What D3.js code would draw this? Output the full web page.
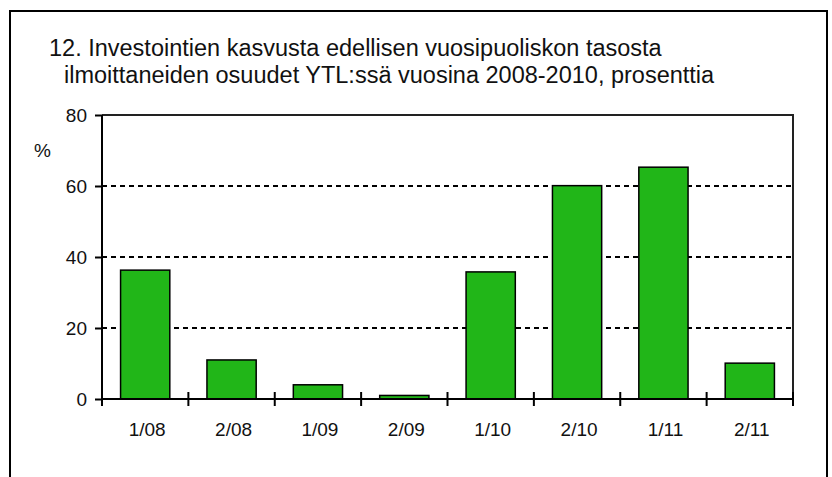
<!DOCTYPE html>
<html>
<head>
<meta charset="utf-8">
<script src="https://cdn.jsdelivr.net/npm/d3@7"></script>
<style>
  body { margin: 0; background: #fff; }
  svg { display: block; font-family: "Liberation Sans", Arial, Helvetica, sans-serif; }
</style>
</head>
<body>
<svg id="chart" width="832" height="477"></svg>
<script>
var categories = ["1/08", "2/08", "1/09", "2/09", "1/10", "2/10", "1/11", "2/11"];
var values = [36.3, 11, 4, 1, 35.8, 60.1, 65.3, 10.1];
var yTicks = [0, 20, 40, 60, 80];
var titleLines = [
  "12. Investointien kasvusta edellisen vuosipuoliskon tasosta",
  "ilmoittaneiden osuudet YTL:ssä vuosina 2008-2010, prosenttia"
];

var svg = d3.select("#chart");
var margin = {top: 115, left: 102, right: 39, bottom: 78};
var width = 832 - margin.left - margin.right,
    height = 477 - margin.top - margin.bottom;

// outer frame (runs off bottom)
svg.append("path")
  .attr("d", "M10,477 L10,11 L827,11 L827,477")
  .attr("fill", "none").attr("stroke", "#000").attr("stroke-width", 2);

svg.append("text").attr("x", 49).attr("y", 56).attr("font-size", 23.5).attr("fill", "#111")
  .text(titleLines[0]);
svg.append("text").attr("x", 64).attr("y", 83).attr("font-size", 23.5).attr("fill", "#111")
  .text(titleLines[1]);

var g = svg.append("g").attr("transform", "translate(" + margin.left + "," + margin.top + ")");

var x = d3.scaleBand().domain(categories).range([0, width]).paddingInner(0.43).paddingOuter(0.215);
var xb = d3.scaleBand().domain(categories).range([0, width]);
var y = d3.scaleLinear().domain([0, 80]).range([height, 0]);

// grid
g.selectAll("line.grid").data(yTicks.filter(function(d){ return d > 0 && d < 80; }))
  .enter().append("line")
  .attr("x1", 0).attr("x2", width)
  .attr("y1", function(d){ return y(d); }).attr("y2", function(d){ return y(d); })
  .attr("stroke", "#000").attr("stroke-width", 2).attr("stroke-dasharray", "5,4");

// top and right frame of plot
g.append("path")
  .attr("d", "M0," + y(80) + " L" + width + "," + y(80) + " L" + width + "," + height)
  .attr("fill", "none").attr("stroke", "#222").attr("stroke-width", 2);

// bars
g.selectAll("rect.bar").data(values).enter().append("rect")
  .attr("x", function(d, i){ return x(categories[i]); })
  .attr("width", x.bandwidth())
  .attr("y", function(d){ return y(d); })
  .attr("height", function(d){ return height - y(d); })
  .attr("fill", "#21b618").attr("stroke", "#000").attr("stroke-width", 1.5);

// y axis
var yAxis = g.append("g")
  .call(d3.axisLeft(y).tickValues(yTicks).tickSize(7).tickPadding(8));
yAxis.select(".domain").remove();
yAxis.selectAll(".tick line").attr("stroke", "#000").attr("stroke-width", 2);
yAxis.selectAll(".tick text").attr("font-size", 19).attr("fill", "#111")
  .attr("font-family", "Liberation Sans, Arial, sans-serif");
g.append("line").attr("x1", 0).attr("x2", 0).attr("y1", 0).attr("y2", height + 7)
  .attr("stroke", "#000").attr("stroke-width", 2);

// x axis
g.append("line").attr("x1", 0).attr("x2", width).attr("y1", height).attr("y2", height)
  .attr("stroke", "#000").attr("stroke-width", 2);
var bounds = categories.slice(1).map(function(c){ return xb(c); }).concat([width]);
g.selectAll("line.xtick").data(bounds).enter().append("line")
  .attr("x1", function(d){ return d; }).attr("x2", function(d){ return d; })
  .attr("y1", height - 7).attr("y2", height + 7)
  .attr("stroke", "#000").attr("stroke-width", 2);
g.selectAll("text.xlab").data(categories).enter().append("text")
  .attr("x", function(d){ return xb(d) + xb.bandwidth() / 2 + 2; })
  .attr("y", height + 37)
  .attr("text-anchor", "middle").attr("font-size", 19).attr("fill", "#111")
  .text(function(d){ return d; });

svg.append("text").attr("x", 34).attr("y", 157).attr("font-size", 19).attr("fill", "#111").text("%");
</script>
</body>
</html>
